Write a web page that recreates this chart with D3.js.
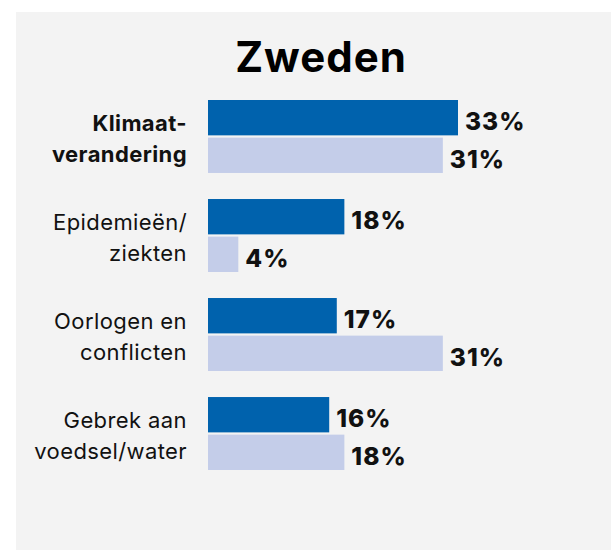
<!DOCTYPE html>
<html>
  <head>
    <meta charset="utf-8">
    <title>Zweden</title>
    <script src="https://d3js.org/d3.v7.min.js"></script>
    <style>
      body {
        margin: 0;
        background-color: #fff;
        font-family: Inter, 'Noto Sans', Arial, sans-serif;
      }
    </style>
  </head>
  <body>
    <svg></svg>

    <script>
      // data
      var categories = ['Klimaatverandering', 'Epidemieën/ziekten', 'Oorlogen en conflicten', 'Gebrek aan voedsel/water'];
      var labelLines = [['Klimaat-', 'verandering'], ['Epidemieën/', 'ziekten'], ['Oorlogen en', 'conflicten'], ['Gebrek aan', 'voedsel/water']];
      var series = ['serie1', 'serie2'];
      var serie1 = [33, 18, 17, 16];
      var serie2 = [31, 4, 31, 18];
      var highlighted = 'Klimaatverandering';

      var width = 611;
      var height = 550;
      var colors = { serie1: '#0062ad', serie2: '#c4cde9' };

      var svg = d3.select('svg')
        .attr('width', width)
        .attr('height', height)
        .style('display', 'block');

      // grey panel
      svg.append('rect')
        .attr('x', 16)
        .attr('y', 12)
        .attr('width', width - 16)
        .attr('height', height - 12)
        .attr('fill', '#f3f3f3');

      svg.append('text')
        .attr('x', 321)
        .attr('y', 72)
        .attr('text-anchor', 'middle')
        .style('font-size', '42px')
        .style('font-weight', 700)
        .style('letter-spacing', '1px')
        .style('fill', '#000')
        .text('Zweden');

      var x = d3.scaleLinear()
        .domain([0, 33])
        .range([208, 458]);

      var y = d3.scaleBand()
        .domain(categories)
        .range([100, 470])
        .paddingInner(0.263);

      var ySub = d3.scaleBand()
        .domain(series)
        .range([0, y.bandwidth()])
        .paddingInner(0.06);

      var rows = categories.map(function (c, i) {
        return { cat: c, lines: labelLines[i], values: [
          { key: 'serie1', value: serie1[i] },
          { key: 'serie2', value: serie2[i] }
        ] };
      });

      var group = svg.selectAll('.group')
        .data(rows)
        .enter().append('g')
        .attr('class', 'group')
        .attr('transform', function (d) { return 'translate(0,' + y(d.cat) + ')'; });

      group.selectAll('rect')
        .data(function (d) { return d.values; })
        .enter().append('rect')
        .attr('x', x(0))
        .attr('y', function (d) { return ySub(d.key); })
        .attr('width', function (d) { return x(d.value) - x(0); })
        .attr('height', ySub.bandwidth())
        .attr('fill', function (d) { return colors[d.key]; });

      group.selectAll('.value')
        .data(function (d) { return d.values; })
        .enter().append('text')
        .attr('class', 'value')
        .attr('x', function (d) { return x(d.value) + 7; })
        .attr('y', function (d) { return ySub(d.key) + ySub.bandwidth() / 2 + 12.5; })
        .style('font-size', '24.5px')
        .style('font-weight', 800)
        .style('letter-spacing', '1px')
        .style('fill', '#111')
        .text(function (d) { return d.value + '%'; });

      var label = group.append('text')
        .attr('class', 'label')
        .attr('text-anchor', 'end')
        .style('font-size', '22px')
        .style('letter-spacing', '0.4px')
        .style('font-weight', function (d) { return d.cat === highlighted ? 700 : 400; })
        .style('fill', '#111');

      label.selectAll('tspan')
        .data(function (d) { return d.lines; })
        .enter().append('tspan')
        .attr('x', 187)
        .attr('y', function (d, i) { return 31 + i * 30.5; })
        .text(function (d) { return d; });
    </script>
  </body>
</html>
